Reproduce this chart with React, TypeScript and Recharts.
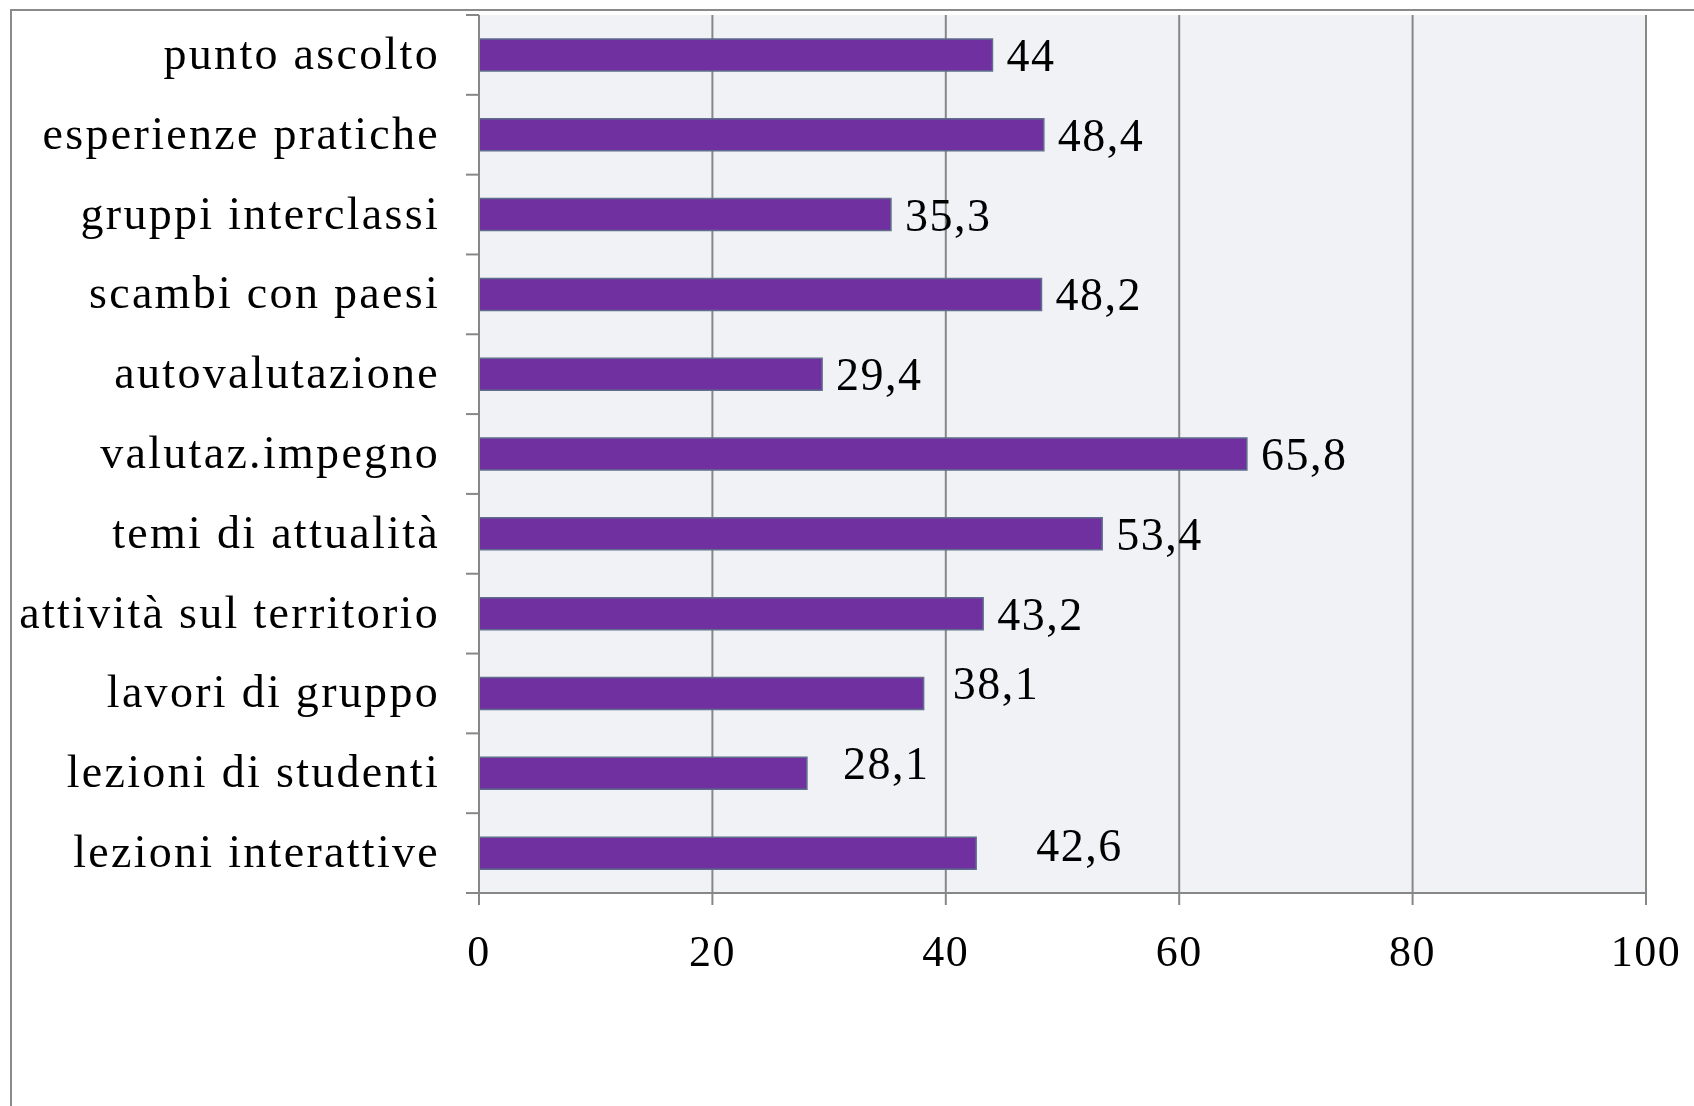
import React from "react";
import { BarChart, Bar, XAxis, YAxis, CartesianGrid, LabelList } from "recharts";

const categories = [
  "punto ascolto",
  "esperienze pratiche",
  "gruppi interclassi",
  "scambi con paesi",
  "autovalutazione",
  "valutaz.impegno",
  "temi di attualità",
  "attività sul territorio",
  "lavori di gruppo",
  "lezioni di studenti",
  "lezioni interattive",
];

const values = [44, 48.4, 35.3, 48.2, 29.4, 65.8, 53.4, 43.2, 38.1, 28.1, 42.6];

const xTicks = [0, 20, 40, 60, 80, 100];

const data = categories.map((name, i) => ({ name, value: values[i] }));

// layout
const W = 1694;
const H = 1106;
const margin = { top: 15, right: 48, bottom: 133, left: 0 };
const yAxisWidth = 479;
const xAxisHeight = 80;
const plotH = H - margin.top - margin.bottom - xAxisHeight;
const band = plotH / categories.length;

const FONT = "'Liberation Serif', 'DejaVu Serif', serif";
const GRID = "#878787";

// hand-placed labels in the original (index -> [dx, dy])
const labelShift: Record<number, [number, number]> = {
  8: [15, -10],
  9: [22, -10],
  10: [46, -8],
};

const fmt = (v: number) => String(v).replace(".", ",");

function CategoryTick(props: any) {
  const { x, y, payload, index } = props;
  const last = index === categories.length - 1;
  return (
    <g>
      <line x1={x - 13} x2={x} y1={y - band / 2} y2={y - band / 2} stroke={GRID} strokeWidth={2} />
      {last && (
        <line x1={x - 13} x2={x} y1={y + band / 2} y2={y + band / 2} stroke={GRID} strokeWidth={2} />
      )}
      <text
        x={x - 39}
        y={y + 14}
        textAnchor="end"
        fill="#000"
        fontSize={46}
        fontFamily={FONT}
        letterSpacing={2.3}
      >
        {payload.value}
      </text>
    </g>
  );
}

function ValueLabel(props: any) {
  const { x, y, width, height, value, index } = props;
  const [dx, dy] = labelShift[index] || [0, 0];
  return (
    <text
      x={x + width + 14 + dx}
      y={y + height / 2 + 16 + dy}
      fill="#000"
      fontSize={46}
      fontFamily={FONT}
      letterSpacing={1.5}
    >
      {fmt(value)}
    </text>
  );
}

export default function App() {
  return (
    <div>
      <div
        style={{
          position: "fixed",
          left: 10,
          top: 9,
          right: 0,
          bottom: 0,
          borderLeft: "2px solid #8a8a8a",
          borderTop: "2px solid #8a8a8a",
        }}
      />
      <div style={{ position: "fixed", left: 0, top: 0 }}>
        <BarChart
          width={W}
          height={H}
          data={data}
          layout="vertical"
          margin={margin}
          barCategoryGap="30%"
        >
          <CartesianGrid
            horizontal={false}
            fill="#F1F2F6"
            stroke={GRID}
            strokeWidth={2}
          />
          <XAxis
            type="number"
            domain={[0, 100]}
            ticks={xTicks}
            height={xAxisHeight}
            tickSize={12}
            tickMargin={30}
            axisLine={{ stroke: GRID, strokeWidth: 2 }}
            tickLine={{ stroke: GRID, strokeWidth: 2 }}
            tick={{ fill: "#000", fontSize: 44, fontFamily: FONT, letterSpacing: 1.5 }}
          />
          <YAxis
            type="category"
            dataKey="name"
            width={yAxisWidth}
            tickSize={0}
            tickMargin={0}
            tickLine={false}
            axisLine={{ stroke: GRID, strokeWidth: 2 }}
            tick={<CategoryTick />}
            interval={0}
          />
          <Bar
            dataKey="value"
            fill="#7030A0"
            stroke="#5F6E8C"
            strokeWidth={1.5}
            isAnimationActive={false}
          >
            <LabelList dataKey="value" content={<ValueLabel />} />
          </Bar>
        </BarChart>
      </div>
    </div>
  );
}
